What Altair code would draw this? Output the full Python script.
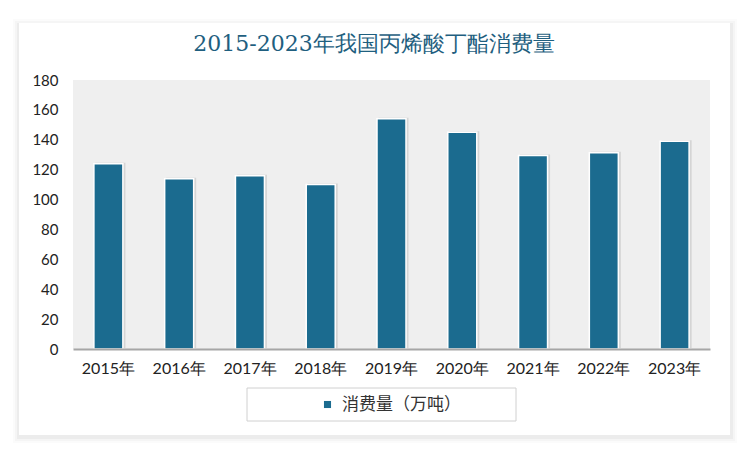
import altair as alt
import pandas as pd

TITLE = "2015-2023年我国丙烯酸丁酯消费量"
SERIES = "消费量（万吨）"
years = ["2015年", "2016年", "2017年", "2018年", "2019年", "2020年", "2021年", "2022年", "2023年"]
values = [124, 114, 116, 110, 154, 145, 129.5, 131.4, 139]

BAR = "#1b6b8f"
W, H = 637, 269

df = pd.DataFrame({"year": years, "value": values, "series": [SERIES] * len(years)})
one = pd.DataFrame({"a": [0]})

x_enc = alt.X("year:N", sort=years,
              scale=alt.Scale(paddingInner=0.6, paddingOuter=0.3),
              axis=alt.Axis(title=None, labelAngle=0, labelFontSize=16, labelFont="Lato",
                            labelColor="#222", labelPadding=11, ticks=False, zindex=2,
                            domainColor="#a6a6a6", domainWidth=2))
y_enc = alt.Y("value:Q", scale=alt.Scale(domain=[0, 180], nice=False),
              axis=alt.Axis(title=None, values=list(range(0, 181, 20)), grid=False, zindex=2,
                            domain=False, ticks=False, labelFontSize=15, labelFont="Lato",
                            labelColor="#222", labelPadding=15))

base = alt.Chart(one)

# card shadow and card
shadows = []
for i, op in [(6, 0.015), (4, 0.025), (2, 0.035)]:
    shadows.append(base.mark_rect(fill="#000", opacity=op).encode(
        x=alt.value(-54 - i), x2=alt.value(657 + i + 1), y=alt.value(-57 - i + 2), y2=alt.value(355 + i + 2)))
card = base.mark_rect(fill="white").encode(
    x=alt.value(-54), x2=alt.value(657), y=alt.value(-57), y2=alt.value(355))
plotbg = base.mark_rect(fill="#efefef").encode(
    x=alt.value(0), x2=alt.value(W), y=alt.value(0), y2=alt.value(H))

title = base.mark_text(font="DejaVu Serif", fontSize=22, color="#1f5f7f",
                       align="center", baseline="middle").encode(
    x=alt.value(301), y=alt.value(-36), text=alt.value(TITLE))

legend_box = base.mark_rect(fill="white", stroke="#d0d0d0", strokeWidth=1).encode(
    x=alt.value(174), x2=alt.value(443), y=alt.value(308), y2=alt.value(341))

shadow_bars = alt.Chart(df).mark_bar(size=30, color="#888", opacity=0.25, xOffset=2, yOffset=-1).encode(
    x=x_enc, y=y_enc)

bars = alt.Chart(df).mark_bar(size=29, stroke="white", strokeWidth=1.5).encode(
    x=x_enc, y=y_enc,
    color=alt.Color("series:N", scale=alt.Scale(range=[BAR]),
                    legend=alt.Legend(title=None, orient="none", legendX=246, legendY=316,
                                      symbolType="square", symbolSize=50, labelFontSize=17,
                                      labelFont="Noto Sans CJK SC", labelColor="#333",
                                      symbolStrokeWidth=0, padding=0, labelOffset=6)))

chart = alt.layer(*shadows, card, plotbg, title, legend_box, shadow_bars, bars).properties(
    width=W, height=H,
    padding={"left": 73, "top": 80, "right": 40, "bottom": 103},
    autosize=alt.AutoSizeParams(type="none"),
    background="white",
).configure_view(stroke=None)

chart.save("out.html", embed_options={"renderer": "svg", "actions": False})
